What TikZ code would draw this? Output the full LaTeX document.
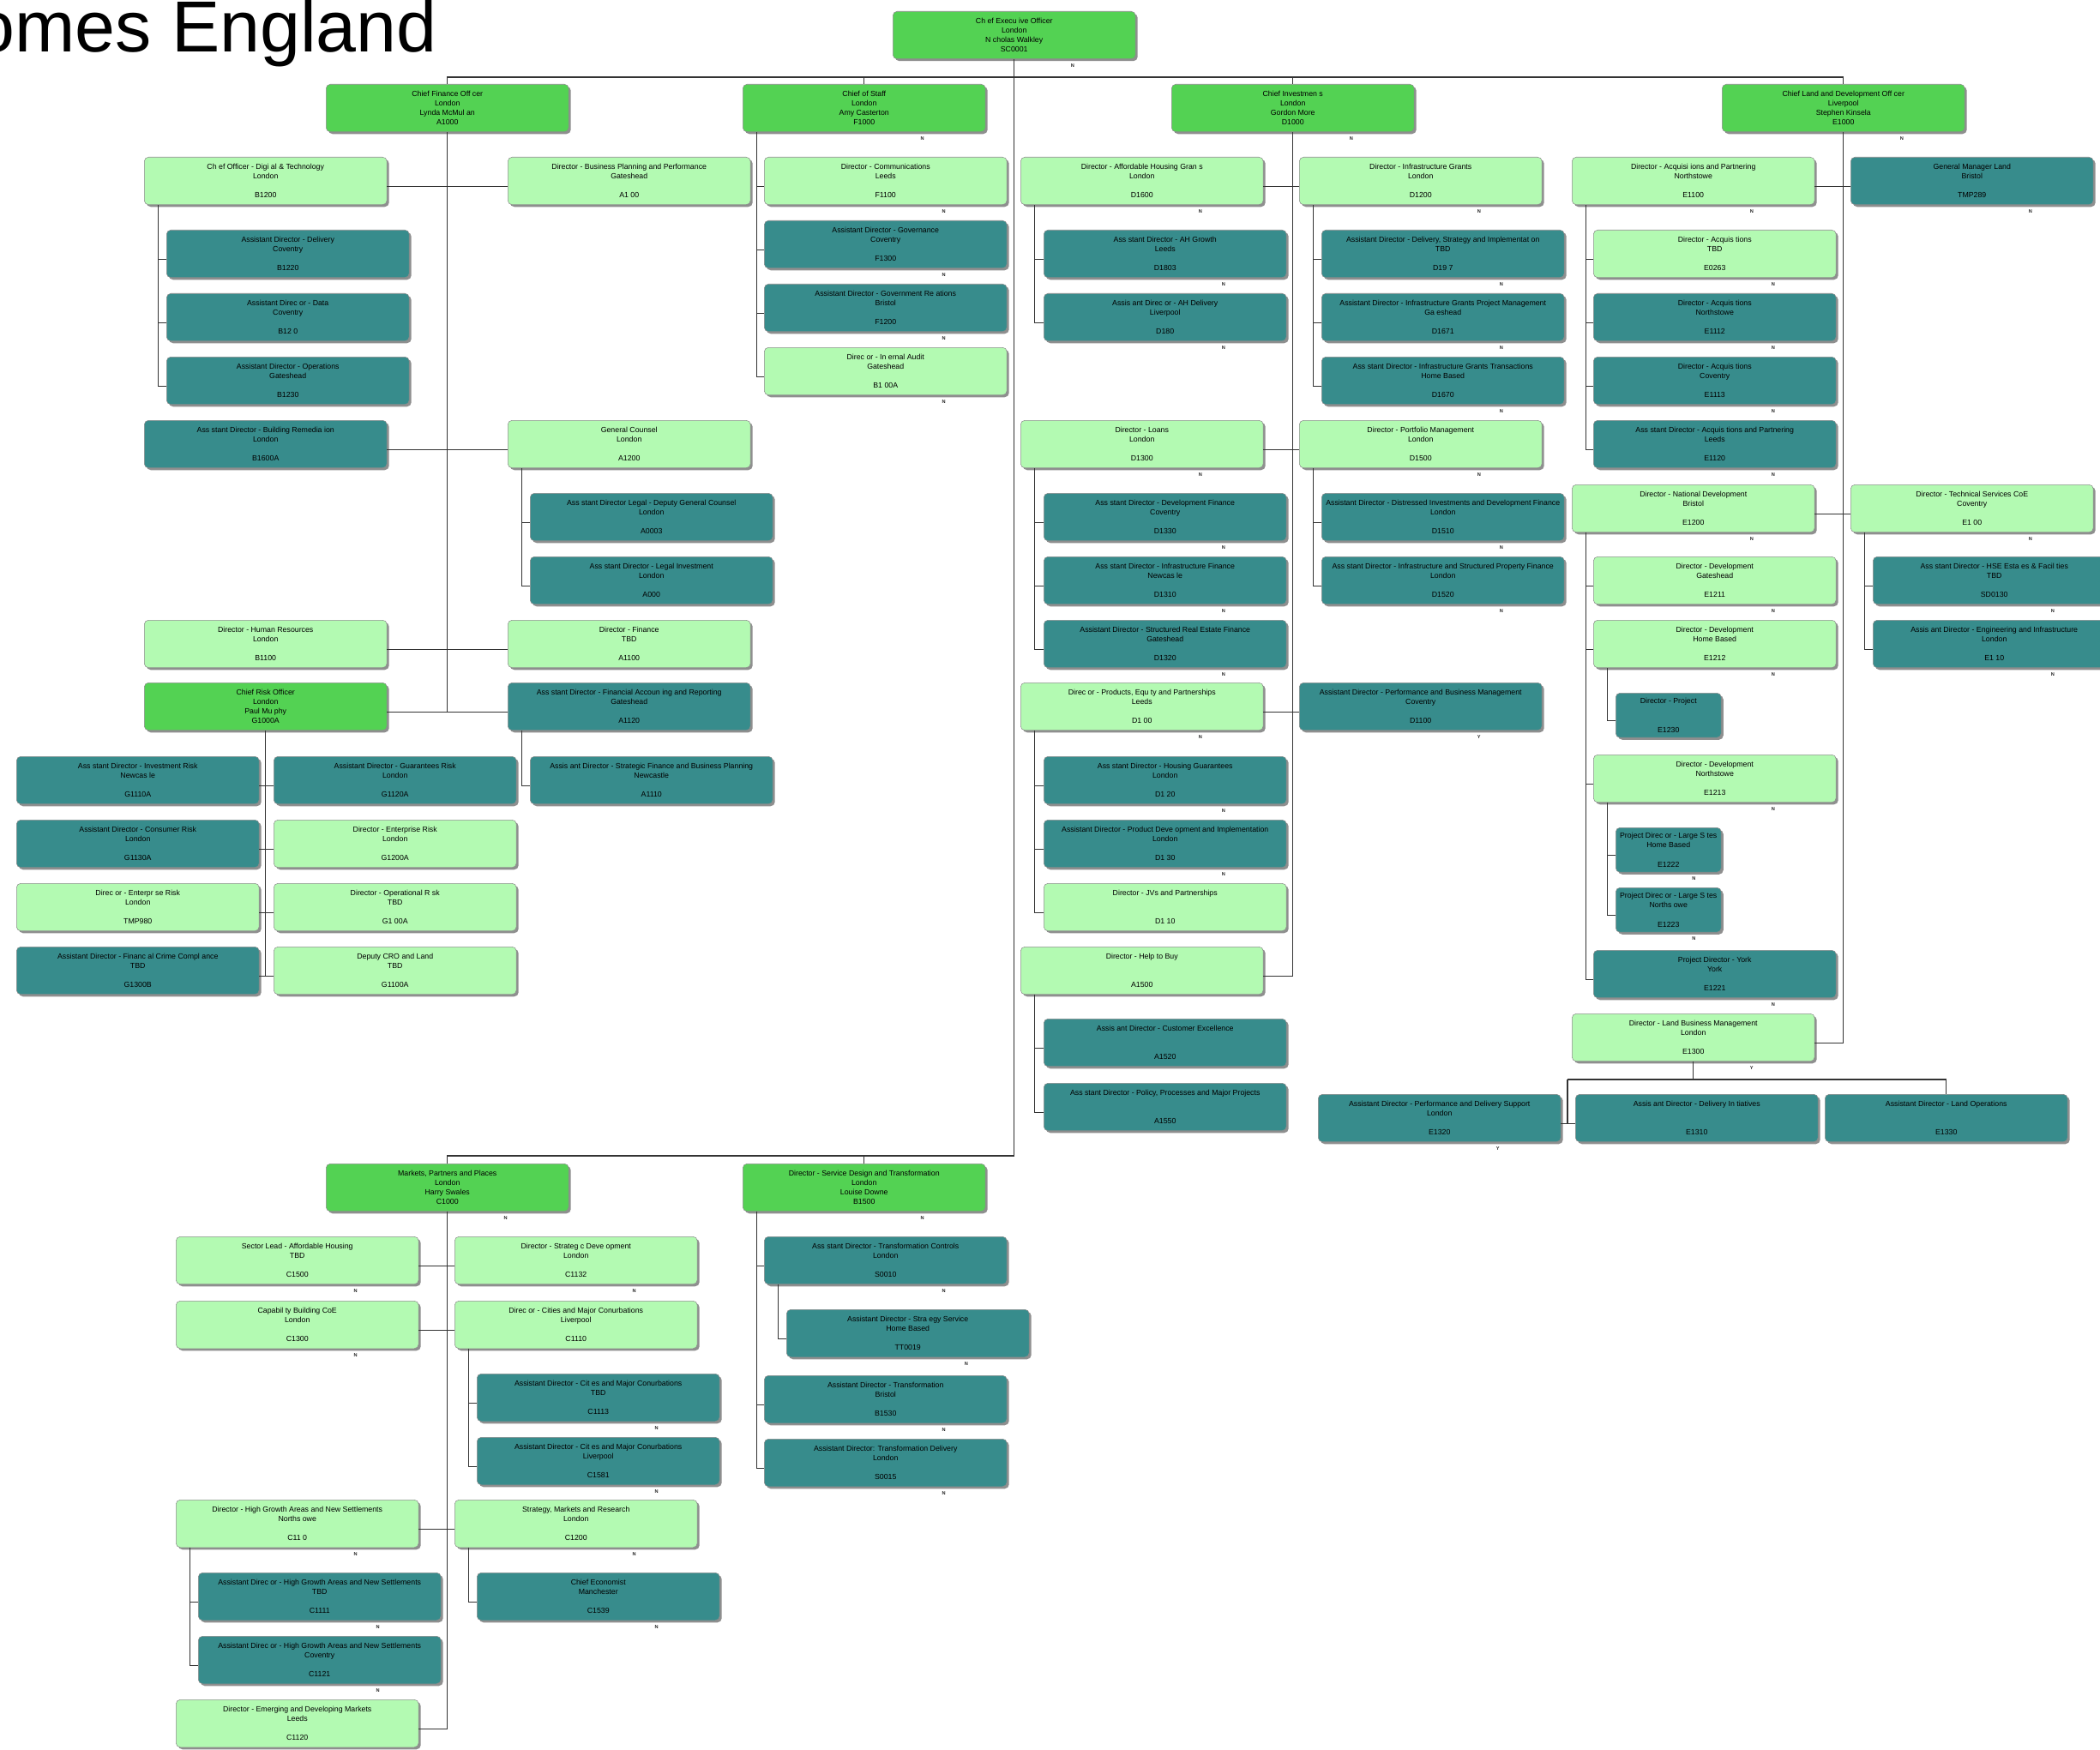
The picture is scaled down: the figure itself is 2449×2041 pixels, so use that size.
\documentclass[tikz,border=0pt]{standalone}
\usepackage{fontspec}
\setmainfont{Liberation Sans}
\usepackage{tikz}
\usetikzlibrary{shadows,calc}

\definecolor{headgreen}{RGB}{83,210,83}
\definecolor{postgreen}{RGB}{179,250,178}
\definecolor{asstteal}{RGB}{55,140,140}

% four lines of a post: title, place, holder, code
\newcommand{\orgcard}[4]{#1\\\mbox{#2}\\\mbox{#3}\\#4}
% small N / Y mark under a post
\newcommand{\flag}[2]{\node[flag] (#1-f) at ($(#1.south west)!0.74!(#1.south east)$) {#2};}

\tikzset{
  card/.style={rectangle, rounded corners=0.1cm, draw=black!45, line width=0.3pt,
    anchor=north west, minimum width=5.66cm, minimum height=1.11cm, inner sep=0pt,
    align=center, font=\fontsize{5}{6.3}\selectfont,
    drop shadow={shadow xshift=0.05cm, shadow yshift=-0.05cm, fill=black!55, opacity=0.8}},
  head/.style={card, fill=headgreen},
  post/.style={card, fill=postgreen},
  asst/.style={card, fill=asstteal},
  narrow/.style={minimum width=2.46cm, minimum height=1.04cm},
  link/.style={draw=black!80, line width=0.7pt},
  lo/.style={yshift=-0.13cm},
  flag/.style={font=\fontsize{3.2}{4}\selectfont\bfseries, inner sep=0pt, yshift=-0.15cm, text=black!85},
}

\begin{document}
\begin{tikzpicture}[x=0.02cm, y=-0.02cm]
\useasboundingbox (0,0) rectangle (2449,2041);
\fill[white] (0,0) rectangle (2449,2041);
\clip (0,0) rectangle (2449,2041);

\node[anchor=base east, inner sep=0pt, font=\fontsize{48}{50}\selectfont] (title) at (510,61) {Homes England};

% top level
\node[head] (ceo) at (1041,13) {\orgcard{Ch ef Execu ive Officer}{London}{N cholas Walkley}{SC0001}};
\node[head] (cfo) at (380,98) {\orgcard{Chief Finance Off cer}{London}{Lynda McMul an}{A1000}};
\node[head] (cos) at (866,98) {\orgcard{Chief of Staff}{London}{Amy Casterton}{F1000}};
\node[head] (cio) at (1366,98) {\orgcard{Chief Investmen s}{London}{Gordon More}{D1000}};
\node[head] (cldo) at (2008,98) {\orgcard{Chief Land and Development Off cer}{Liverpool}{Stephen Kinsela}{E1000}};
\node[head] (c1000) at (380,1357) {\orgcard{Markets, Partners and Places}{London}{Harry Swales}{C1000}};
\node[head] (b1500) at (866,1357) {\orgcard{Director - Service Design and Transformation}{London}{Louise Downe}{B1500}};

% finance
\node[post] (b1200) at (168,183) {\orgcard{Ch ef Officer - Digi al \& Technology}{London}{}{B1200}};
\node[post] (a1x00) at (592,183) {\orgcard{Director - Business Planning and Performance}{Gateshead}{}{A1 00}};
\node[asst] (b1220) at (194,268) {\orgcard{Assistant Director - Delivery}{Coventry}{}{B1220}};
\node[asst] (b1250) at (194,342) {\orgcard{Assistant Direc or - Data}{Coventry}{}{B12 0}};
\node[asst] (b1230) at (194,416) {\orgcard{Assistant Director - Operations}{Gateshead}{}{B1230}};
\node[asst] (b1600a) at (168,490) {\orgcard{Ass stant Director - Building Remedia ion}{London}{}{B1600A}};
\node[post] (a1200) at (592,490) {\orgcard{General Counsel}{London}{}{A1200}};
\node[asst] (a0003) at (618,575) {\orgcard{Ass stant Director Legal - Deputy General Counsel}{London}{}{A0003}};
\node[asst] (a000) at (618,649) {\orgcard{Ass stant Director - Legal Investment}{London}{}{A000}};
\node[post] (b1100) at (168,723) {\orgcard{Director - Human Resources}{London}{}{B1100}};
\node[post] (a1100) at (592,723) {\orgcard{Director - Finance}{TBD}{}{A1100}};
\node[head] (g1000a) at (168,796) {\orgcard{Chief Risk Officer}{London}{Paul Mu phy}{G1000A}};
\node[asst] (a1120) at (592,796) {\orgcard{Ass stant Director - Financial Accoun ing and Reporting}{Gateshead}{}{A1120}};
\node[asst] (a1110) at (618,882) {\orgcard{Assis ant Director - Strategic Finance and Business Planning}{Newcastle}{}{A1110}};

% risk
\node[asst] (g1110a) at (19,882) {\orgcard{Ass stant Director - Investment Risk}{Newcas le}{}{G1110A}};
\node[asst] (g1120a) at (319,882) {\orgcard{Assistant Director - Guarantees Risk}{London}{}{G1120A}};
\node[asst] (g1130a) at (19,956) {\orgcard{Assistant Director - Consumer Risk}{London}{}{G1130A}};
\node[post] (g1200a) at (319,956) {\orgcard{Director - Enterprise Risk}{London}{}{G1200A}};
\node[post] (tmp980) at (19,1030) {\orgcard{Direc or - Enterpr se Risk}{London}{}{TMP980}};
\node[post] (g1x00a) at (319,1030) {\orgcard{Director - Operational R sk}{TBD}{}{G1 00A}};
\node[asst] (g1300b) at (19,1104) {\orgcard{Assistant Director - Financ al Crime Compl ance}{TBD}{}{G1300B}};
\node[post] (g1100a) at (319,1104) {\orgcard{Deputy CRO and Land}{TBD}{}{G1100A}};

% chief of staff
\node[post] (f1100) at (891,183) {\orgcard{Director - Communications}{Leeds}{}{F1100}};
\node[asst] (f1300) at (891,257) {\orgcard{Assistant Director - Governance}{Coventry}{}{F1300}};
\node[asst] (f1200) at (891,331) {\orgcard{Assistant Director - Government Re ations}{Bristol}{}{F1200}};
\node[post] (b1x00a) at (891,405) {\orgcard{Direc or - In ernal Audit}{Gateshead}{}{B1 00A}};

% investments
\node[post] (d1600) at (1190,183) {\orgcard{Director - Affordable Housing Gran s}{London}{}{D1600}};
\node[post] (d1200) at (1515,183) {\orgcard{Director - Infrastructure Grants}{London}{}{D1200}};
\node[asst] (d1803) at (1217,268) {\orgcard{Ass stant Director - AH Growth}{Leeds}{}{D1803}};
\node[asst] (d180) at (1217,342) {\orgcard{Assis ant Direc or - AH Delivery}{Liverpool}{}{D180}};
\node[asst] (d19x7) at (1541,268) {\orgcard{Assistant Director - Delivery, Strategy and Implementat on}{TBD}{}{D19 7}};
\node[asst] (d1671) at (1541,342) {\orgcard{Assistant Director - Infrastructure Grants Project Management}{Ga eshead}{}{D1671}};
\node[asst] (d1670) at (1541,416) {\orgcard{Ass stant Director - Infrastructure Grants Transactions}{Home Based}{}{D1670}};
\node[post] (d1300) at (1190,490) {\orgcard{Director - Loans}{London}{}{D1300}};
\node[post] (d1500) at (1515,490) {\orgcard{Director - Portfolio Management}{London}{}{D1500}};
\node[asst] (d1330) at (1217,575) {\orgcard{Ass stant Director - Development Finance}{Coventry}{}{D1330}};
\node[asst] (d1310) at (1217,649) {\orgcard{Ass stant Director - Infrastructure Finance}{Newcas le}{}{D1310}};
\node[asst] (d1320) at (1217,723) {\orgcard{Assistant Director - Structured Real Estate Finance}{Gateshead}{}{D1320}};
\node[asst] (d1510) at (1541,575) {\orgcard{Assistant Director - Distressed Investments and Development Finance}{London}{}{D1510}};
\node[asst] (d1520) at (1541,649) {\orgcard{Ass stant Director - Infrastructure and Structured Property Finance}{London}{}{D1520}};
\node[post] (d1x00) at (1190,796) {\orgcard{Direc or - Products, Equ ty and Partnerships}{Leeds}{}{D1 00}};
\node[asst] (d1100) at (1515,796) {\orgcard{Assistant Director - Performance and Business Management}{Coventry}{}{D1100}};
\node[asst] (d1x20) at (1217,882) {\orgcard{Ass stant Director - Housing Guarantees}{London}{}{D1 20}};
\node[asst] (d1x30) at (1217,956) {\orgcard{Assistant Director - Product Deve opment and Implementation}{London}{}{D1 30}};
\node[post] (d1x10) at (1217,1030) {\orgcard{Director - JVs and Partnerships}{}{}{D1 10}};
\node[post] (a1500) at (1190,1104) {\orgcard{Director - Help to Buy}{}{}{A1500}};
\node[asst] (a1520) at (1217,1188) {\orgcard{Assis ant Director - Customer Excellence}{}{}{A1520}};
\node[asst] (a1550) at (1217,1263) {\orgcard{Ass stant Director - Policy, Processes and Major Projects}{}{}{A1550}};

% land and development
\node[post] (e1100) at (1833,183) {\orgcard{Director - Acquisi ions and Partnering}{Northstowe}{}{E1100}};
\node[asst] (tmp289) at (2158,183) {\orgcard{General Manager Land}{Bristol}{}{TMP289}};
\node[post] (e0263) at (1858,268) {\orgcard{Director - Acquis tions}{TBD}{}{E0263}};
\node[asst] (e1112) at (1858,342) {\orgcard{Director - Acquis tions}{Northstowe}{}{E1112}};
\node[asst] (e1113) at (1858,416) {\orgcard{Director - Acquis tions}{Coventry}{}{E1113}};
\node[asst] (e1120) at (1858,490) {\orgcard{Ass stant Director - Acquis tions and Partnering}{Leeds}{}{E1120}};
\node[post] (e1200) at (1833,565) {\orgcard{Director - National Development}{Bristol}{}{E1200}};
\node[post] (e1x00) at (2158,565) {\orgcard{Director - Technical Services CoE}{Coventry}{}{E1 00}};
\node[post] (e1211) at (1858,649) {\orgcard{Director - Development}{Gateshead}{}{E1211}};
\node[post] (e1212) at (1858,723) {\orgcard{Director - Development}{Home Based}{}{E1212}};
\node[asst, narrow] (e1230) at (1884,808) {\orgcard{Director - Project}{}{}{E1230}};
\node[post] (e1213) at (1858,880) {\orgcard{Director - Development}{Northstowe}{}{E1213}};
\node[asst, narrow] (e1222) at (1884,965) {\orgcard{Project Direc or - Large S tes}{Home Based}{}{E1222}};
\node[asst, narrow] (e1223) at (1884,1035) {\orgcard{Project Direc or - Large S tes}{Norths owe}{}{E1223}};
\node[asst] (e1221) at (1858,1108) {\orgcard{Project Director - York}{York}{}{E1221}};
\node[post] (e1300) at (1833,1182) {\orgcard{Director - Land Business Management}{London}{}{E1300}};
\node[asst] (e1320) at (1537,1276) {\orgcard{Assistant Director - Performance and Delivery Support}{London}{}{E1320}};
\node[asst] (e1310) at (1837,1276) {\orgcard{Assis ant Director - Delivery In tiatives}{}{}{E1310}};
\node[asst] (e1330) at (2128,1276) {\orgcard{Assistant Director - Land Operations}{}{}{E1330}};
\node[asst] (sd0130) at (2184,649) {\orgcard{Ass stant Director - HSE Esta es \& Facil ties}{TBD}{}{SD0130}};
\node[asst] (e1x10) at (2184,723) {\orgcard{Assis ant Director - Engineering and Infrastructure}{London}{}{E1 10}};

% markets, partners and places
\node[post] (c1500) at (205,1442) {\orgcard{Sector Lead - Affordable Housing}{TBD}{}{C1500}};
\node[post] (c1132) at (530,1442) {\orgcard{Director - Strateg c Deve opment}{London}{}{C1132}};
\node[post] (c1300) at (205,1517) {\orgcard{Capabil ty Building CoE}{London}{}{C1300}};
\node[post] (c1110) at (530,1517) {\orgcard{Direc or - Cities and Major Conurbations}{Liverpool}{}{C1110}};
\node[asst] (c1113) at (556,1602) {\orgcard{Assistant Director - Cit es and Major Conurbations}{TBD}{}{C1113}};
\node[asst] (c1581) at (556,1676) {\orgcard{Assistant Director - Cit es and Major Conurbations}{Liverpool}{}{C1581}};
\node[post] (c11x0) at (205,1749) {\orgcard{Director - High Growth Areas and New Settlements}{Norths owe}{}{C11 0}};
\node[post] (c1200) at (530,1749) {\orgcard{Strategy, Markets and Research}{London}{}{C1200}};
\node[asst] (c1111) at (231,1834) {\orgcard{Assistant Direc or - High Growth Areas and New Settlements}{TBD}{}{C1111}};
\node[asst] (c1121) at (231,1908) {\orgcard{Assistant Direc or - High Growth Areas and New Settlements}{Coventry}{}{C1121}};
\node[asst] (c1539) at (556,1834) {\orgcard{Chief Economist}{Manchester}{}{C1539}};
\node[post] (c1120) at (205,1982) {\orgcard{Director - Emerging and Developing Markets}{Leeds}{}{C1120}};

% service design
\node[asst] (s0010) at (891,1442) {\orgcard{Ass stant Director - Transformation Controls}{London}{}{S0010}};
\node[asst] (tt0019) at (917,1527) {\orgcard{Assistant Director - Stra egy Service}{Home Based}{}{TT0019}};
\node[asst] (b1530) at (891,1604) {\orgcard{Assistant Director - Transformation}{Bristol}{}{B1530}};
\node[asst] (s0015) at (891,1678) {\orgcard{Assistant Director: Transformation Delivery}{London}{}{S0015}};

% connectors
\coordinate (topbus) at (0,90);
\coordinate (lowbus) at (0,1348);
\coordinate (lbmbus) at (1828,1259);
\draw[link] (ceo.south) -- (ceo.south |- lowbus) -| (c1000.north);
\draw[link] (cfo.north) |- (cldo.north |- topbus) -- (cldo.north);
\draw[link] (cos.north) -- (cos.north |- topbus);
\draw[link] (cio.north) -- (cio.north |- topbus);
\draw[link] (b1500.north) -- (b1500.north |- lowbus);

\draw[link] (cfo.south) |- ([lo]g1000a.east);
\draw[link] ([lo]b1200.east) -- ([lo]a1x00.west);
\draw[link] ([lo]b1600a.east) -- ([lo]a1200.west);
\draw[link] ([lo]b1100.east) -- ([lo]a1100.west);
\draw[link] ([lo]g1000a.east) -- ([lo]a1120.west);
\draw[link] ([xshift=0.33cm]b1200.south west) |- ([lo]b1220.west);
\draw[link] ([xshift=0.33cm]b1200.south west) |- ([lo]b1250.west);
\draw[link] ([xshift=0.33cm]b1200.south west) |- ([lo]b1230.west);
\draw[link] ([xshift=0.33cm]a1200.south west) |- ([lo]a0003.west);
\draw[link] ([xshift=0.33cm]a1200.south west) |- ([lo]a000.west);
\draw[link] ([xshift=0.33cm]a1120.south west) |- ([lo]a1110.west);

\draw[link] (g1000a.south) |- ([lo]g1300b.east);
\draw[link] ([lo]g1110a.east) -- ([lo]g1120a.west);
\draw[link] ([lo]g1130a.east) -- ([lo]g1200a.west);
\draw[link] ([lo]tmp980.east) -- ([lo]g1x00a.west);
\draw[link] ([lo]g1300b.east) -- ([lo]g1100a.west);

\draw[link] ([xshift=0.33cm]cos.south west) |- ([lo]f1100.west);
\draw[link] ([xshift=0.33cm]cos.south west) |- ([lo]f1300.west);
\draw[link] ([xshift=0.33cm]cos.south west) |- ([lo]f1200.west);
\draw[link] ([xshift=0.33cm]cos.south west) |- ([lo]b1x00a.west);

\draw[link] (cio.south) |- ([lo]a1500.east);
\draw[link] ([lo]d1600.east) -- ([lo]d1200.west);
\draw[link] ([lo]d1300.east) -- ([lo]d1500.west);
\draw[link] ([lo]d1x00.east) -- ([lo]d1100.west);
\draw[link] ([xshift=0.33cm]d1600.south west) |- ([lo]d1803.west);
\draw[link] ([xshift=0.33cm]d1600.south west) |- ([lo]d180.west);
\draw[link] ([xshift=0.33cm]d1200.south west) |- ([lo]d19x7.west);
\draw[link] ([xshift=0.33cm]d1200.south west) |- ([lo]d1671.west);
\draw[link] ([xshift=0.33cm]d1200.south west) |- ([lo]d1670.west);
\draw[link] ([xshift=0.33cm]d1300.south west) |- ([lo]d1330.west);
\draw[link] ([xshift=0.33cm]d1300.south west) |- ([lo]d1310.west);
\draw[link] ([xshift=0.33cm]d1300.south west) |- ([lo]d1320.west);
\draw[link] ([xshift=0.33cm]d1500.south west) |- ([lo]d1510.west);
\draw[link] ([xshift=0.33cm]d1500.south west) |- ([lo]d1520.west);
\draw[link] ([xshift=0.33cm]d1x00.south west) |- ([lo]d1x20.west);
\draw[link] ([xshift=0.33cm]d1x00.south west) |- ([lo]d1x30.west);
\draw[link] ([xshift=0.33cm]d1x00.south west) |- ([lo]d1x10.west);
\draw[link] ([xshift=0.33cm]a1500.south west) |- ([lo]a1520.west);
\draw[link] ([xshift=0.33cm]a1500.south west) |- ([lo]a1550.west);

\draw[link] (cldo.south) |- ([lo]e1300.east);
\draw[link] ([lo]e1100.east) -- ([lo]tmp289.west);
\draw[link] ([lo]e1200.east) -- ([lo]e1x00.west);
\draw[link] ([xshift=0.33cm]e1100.south west) |- ([lo]e0263.west);
\draw[link] ([xshift=0.33cm]e1100.south west) |- ([lo]e1112.west);
\draw[link] ([xshift=0.33cm]e1100.south west) |- ([lo]e1113.west);
\draw[link] ([xshift=0.33cm]e1100.south west) |- ([lo]e1120.west);
\draw[link] ([xshift=0.33cm]e1200.south west) |- ([lo]e1211.west);
\draw[link] ([xshift=0.33cm]e1200.south west) |- ([lo]e1212.west);
\draw[link] ([xshift=0.33cm]e1200.south west) |- ([lo]e1213.west);
\draw[link] ([xshift=0.33cm]e1200.south west) |- ([lo]e1221.west);
\draw[link] ([xshift=0.33cm]e1212.south west) |- ([lo]e1230.west);
\draw[link] ([xshift=0.33cm]e1213.south west) |- ([lo]e1222.west);
\draw[link] ([xshift=0.33cm]e1213.south west) |- ([lo]e1223.west);
\draw[link] ([xshift=0.33cm]e1x00.south west) |- ([lo]sd0130.west);
\draw[link] ([xshift=0.33cm]e1x00.south west) |- ([lo]e1x10.west);
\draw[link] (e1300.south) -- (e1300.south |- lbmbus);
\draw[link] (lbmbus) -| (e1330.north);
\draw[link] (lbmbus) |- ([lo]e1310.west);
\draw[link] (lbmbus) |- ([lo]e1320.east);

\draw[link] (c1000.south) |- ([lo]c1120.east);
\draw[link] ([lo]c1500.east) -- ([lo]c1132.west);
\draw[link] ([lo]c1300.east) -- ([lo]c1110.west);
\draw[link] ([lo]c11x0.east) -- ([lo]c1200.west);
\draw[link] ([xshift=0.33cm]c1110.south west) |- ([lo]c1113.west);
\draw[link] ([xshift=0.33cm]c1110.south west) |- ([lo]c1581.west);
\draw[link] ([xshift=0.33cm]c11x0.south west) |- ([lo]c1111.west);
\draw[link] ([xshift=0.33cm]c11x0.south west) |- ([lo]c1121.west);
\draw[link] ([xshift=0.33cm]c1200.south west) |- ([lo]c1539.west);

\draw[link] ([xshift=0.33cm]b1500.south west) |- ([lo]s0010.west);
\draw[link] ([xshift=0.33cm]b1500.south west) |- ([lo]b1530.west);
\draw[link] ([xshift=0.33cm]b1500.south west) |- ([lo]s0015.west);
\draw[link] ([xshift=0.33cm]s0010.south west) |- ([lo]tt0019.west);

% N / Y marks
\flag{ceo}{N} \flag{cos}{N} \flag{cio}{N} \flag{cldo}{N}
\flag{f1100}{N} \flag{f1300}{N} \flag{f1200}{N} \flag{b1x00a}{N}
\flag{d1600}{N} \flag{d1200}{N} \flag{d1803}{N} \flag{d180}{N}
\flag{d19x7}{N} \flag{d1671}{N} \flag{d1670}{N}
\flag{d1300}{N} \flag{d1500}{N} \flag{d1330}{N} \flag{d1310}{N} \flag{d1320}{N}
\flag{d1510}{N} \flag{d1520}{N} \flag{d1x00}{N} \flag{d1100}{Y}
\flag{d1x20}{N} \flag{d1x30}{N}
\flag{e1100}{N} \flag{tmp289}{N} \flag{e0263}{N} \flag{e1112}{N} \flag{e1113}{N} \flag{e1120}{N}
\flag{e1200}{N} \flag{e1x00}{N} \flag{e1211}{N} \flag{e1212}{N} \flag{e1213}{N}
\flag{e1222}{N} \flag{e1223}{N} \flag{e1221}{N} \flag{e1300}{Y} \flag{e1320}{Y}
\flag{sd0130}{N} \flag{e1x10}{N}
\flag{c1000}{N} \flag{b1500}{N} \flag{c1500}{N} \flag{c1132}{N} \flag{c1300}{N}
\flag{c1113}{N} \flag{c1581}{N} \flag{c11x0}{N} \flag{c1200}{N}
\flag{c1111}{N} \flag{c1121}{N} \flag{c1539}{N}
\flag{s0010}{N} \flag{tt0019}{N} \flag{b1530}{N} \flag{s0015}{N}
\end{tikzpicture}
\end{document}
